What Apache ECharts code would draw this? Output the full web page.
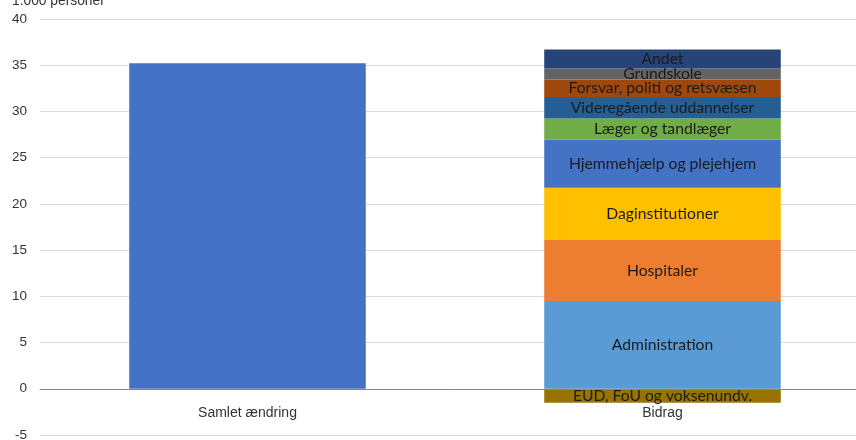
<!DOCTYPE html>
<html>
<head>
<meta charset="utf-8">
<script src="https://cdn.jsdelivr.net/npm/echarts@6/dist/echarts.min.js"></script>
<style>
  html, body { margin: 0; padding: 0; background: #fff; }
  #chart { width: 856px; height: 440px; }
</style>
</head>
<body>
<div id="chart"></div>
<script>
// kategorier på x-aksen
const categories = ['Samlet ændring', 'Bidrag']
// samlet ændring (1.000 personer)
const totalChange = 35.2
// bidrag, nedefra og op (negativ værdi stables under 0)
const partNames = [
  'EUD, FoU og voksenundv.',
  'Administration',
  'Hospitaler',
  'Daginstitutioner',
  'Hjemmehjælp og plejehjem',
  'Læger og tandlæger',
  'Videregående uddannelser',
  'Forsvar, politi og retsvæsen',
  'Grundskole',
  'Andet'
]
const partValues = [-1.5, 9.5, 6.6, 5.65, 5.2, 2.3, 2.3, 1.9, 1.2, 2.05]
const partColors = [
  '#997300', '#5B9BD5', '#ED7D31', '#FFC000', '#4472C4',
  '#70AD47', '#255E91', '#9E480E', '#636363', '#264478'
]
const yTicks = { min: -5, max: 40, interval: 5 }

const chart = echarts.init(document.getElementById('chart'))

const labelStyle = {
  show: true,
  position: 'inside',
  formatter: '{a}',
  color: '#1b1b1b',
  fontFamily: 'Lato',
  fontSize: 15.7
}

const series = [
  {
    name: categories[0],
    type: 'bar',
    stack: 'a',
    barWidth: '57%',
    itemStyle: { color: '#4472C4' },
    data: [totalChange, '-']
  }
]
partNames.forEach((name, i) => {
  series.push({
    name: name,
    type: 'bar',
    stack: 'a',
    barWidth: '57%',
    itemStyle: { color: partColors[i] },
    label: labelStyle,
    data: ['-', partValues[i]]
  })
})

chart.setOption({
  animation: false,
  title: {
    text: '1.000 personer',
    left: 7,
    top: -11,
    textStyle: {
      fontFamily: 'Liberation Sans',
      fontSize: 13.8,
      fontWeight: 'normal',
      color: '#333'
    }
  },
  grid: {
    left: 40,
    right: -14,
    top: 19,
    bottom: 5,
    containLabel: false,
    outerBoundsMode: 'none'
  },
  xAxis: {
    type: 'category',
    data: categories,
    z: 10,
    axisLine: { onZero: true, lineStyle: { color: '#868686', width: 1 } },
    axisTick: { show: false },
    axisLabel: {
      // etiketterne står lige under nul-linjen
      margin: -29,
      fontFamily: 'Liberation Sans',
      fontSize: 14,
      color: '#333'
    }
  },
  yAxis: {
    type: 'value',
    min: yTicks.min,
    max: yTicks.max,
    interval: yTicks.interval,
    axisLine: { show: false },
    axisTick: { show: false },
    axisLabel: {
      margin: 13,
      fontFamily: 'Liberation Sans',
      fontSize: 13.5,
      color: '#333'
    },
    splitLine: { lineStyle: { color: '#d9d9d9', width: 1 } }
  },
  series: series
})
</script>
</body>
</html>
